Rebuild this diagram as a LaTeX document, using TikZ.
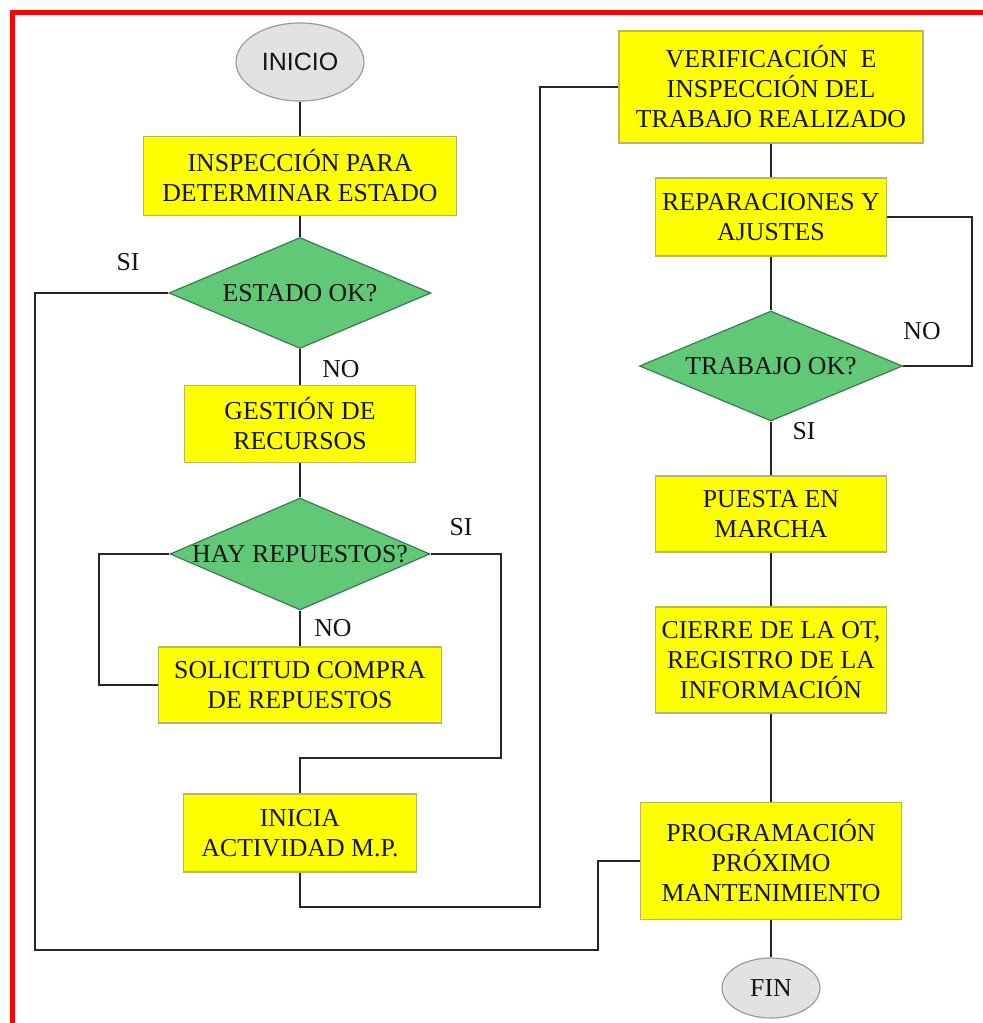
\documentclass[tikz,border=0pt]{standalone}
\usepackage{fontspec}
\setmainfont{Liberation Serif}
\setsansfont{Liberation Sans}
\usetikzlibrary{shapes.geometric}

\definecolor{stepfill}{HTML}{FFFF00}
\definecolor{stepline}{HTML}{BDB55A}
\definecolor{askfill}{HTML}{60C876}
\definecolor{askline}{HTML}{3E7A4E}
\definecolor{endfill}{HTML}{E2E2E2}
\definecolor{endline}{HTML}{9C9C9C}
\definecolor{ink}{HTML}{141414}
\definecolor{wire}{HTML}{262626}

\tikzset{
  txt/.style={font=\fontsize{12.9}{15}\selectfont, text=ink},
  stepbox/.style={txt, rectangle, draw=stepline, line width=0.6pt, fill=stepfill,
    align=center, inner sep=0pt},
  askbox/.style={txt, diamond, draw=askline, line width=0.6pt, fill=askfill,
    inner sep=0pt},
  endbox/.style={ellipse, draw=endline, line width=0.6pt, fill=endfill, inner sep=0pt},
  tag/.style={txt, inner sep=0pt},
  link/.style={draw=wire, line width=1.1pt},
}

\begin{document}
\begin{tikzpicture}[x=0.5pt, y=-0.5pt]
  \useasboundingbox (0,0) rectangle (983,1023);

  % frame
  \draw[red, line width=2.5pt] (12,1023) -- (12,12) -- (983,12);

  % left column
  \node[endbox, minimum width=64pt, minimum height=39pt,
        font=\sffamily\fontsize{12.5}{15}\selectfont, text=ink] (ini) at (300,62) {INICIO};
  \node[stepbox, minimum width=156.5pt, minimum height=39.5pt] (insp) at (300,176)
    {INSPECCIÓN PARA\\DETERMINAR ESTADO};
  \node[askbox, minimum width=131pt, minimum height=55.5pt] (est) at (300,293)
    {\makebox[0pt]{ESTADO OK?}};
  \node[stepbox, minimum width=115.5pt, minimum height=38.5pt] (ges) at (300,424)
    {GESTIÓN DE\\RECURSOS};
  \node[askbox, minimum width=130pt, minimum height=56pt] (hay) at (300,554)
    {\makebox[0pt]{HAY REPUESTOS?}};
  \node[stepbox, minimum width=141.5pt, minimum height=38pt] (sol) at (300,685)
    {SOLICITUD COMPRA\\DE REPUESTOS};
  \node[stepbox, minimum width=116.5pt, minimum height=39pt] (inia) at (300,833)
    {INICIA\\ACTIVIDAD M.P.};

  % right column
  \node[stepbox, minimum width=152pt, minimum height=56pt] (ver) at (771,87)
    {VERIFICACIÓN\ \ E\\INSPECCIÓN DEL\\TRABAJO REALIZADO};
  \node[stepbox, minimum width=115.5pt, minimum height=39pt] (rep) at (771,217)
    {REPARACIONES Y\\AJUSTES};
  \node[askbox, minimum width=131.5pt, minimum height=55pt] (tra) at (771,366)
    {\makebox[0pt]{TRABAJO OK?}};
  \node[stepbox, minimum width=115.5pt, minimum height=38pt] (pue) at (771,514)
    {PUESTA EN\\MARCHA};
  \node[stepbox, minimum width=115.5pt, minimum height=53pt] (cie) at (771,660)
    {CIERRE DE LA OT,\\REGISTRO DE LA\\INFORMACIÓN};
  \node[stepbox, minimum width=130.5pt, minimum height=58.5pt] (pro) at (771,861)
    {PROGRAMACIÓN\\PRÓXIMO\\MANTENIMIENTO};
  \node[endbox, minimum width=49pt, minimum height=30pt, txt] (fin) at (771,988) {FIN};

  % bend points
  \coordinate (e1) at (35,293);
  \coordinate (e2) at (35,950);
  \coordinate (e3) at (598,950);
  \coordinate (e4) at (598,861);
  \coordinate (h1) at (99,554);
  \coordinate (h2) at (99,685);
  \coordinate (s1) at (501,554);
  \coordinate (s2) at (501,758);
  \coordinate (s3) at (300,758);
  \coordinate (m1) at (300,907);
  \coordinate (m2) at (540,907);
  \coordinate (m3) at (540,87);
  \coordinate (r1) at (972,217);
  \coordinate (r2) at (972,366);

  % connectors
  \path[link] (ini) -- (insp);
  \path[link] (insp) -- (est);
  \path[link] (est) -- (ges);
  \path[link] (ges) -- (hay);
  \path[link] (hay) -- (sol);
  \path[link] (est.west) -- (e1) -- (e2) -- (e3) -- (e4) -- (pro.west);
  \path[link] (hay.west) -- (h1) -- (h2) -- (sol.west);
  \path[link] (hay.east) -- (s1) -- (s2) -- (s3) -- (inia.north);
  \path[link] (inia.south) -- (m1) -- (m2) -- (m3) -- (ver.west);
  \path[link] (ver) -- (rep);
  \path[link] (rep) -- (tra);
  \path[link] (rep.east) -- (r1) -- (r2) -- (tra.east);
  \path[link] (tra) -- (pue);
  \path[link] (pue) -- (cie);
  \path[link] (cie) -- (pro);
  \path[link] (pro) -- (fin);

  % branch labels
  \node[tag] (siest) at (128,262) {SI};
  \node[tag] (noest) at (341,369) {NO};
  \node[tag] (sihay) at (461,527) {SI};
  \node[tag] (nohay) at (333,628) {NO};
  \node[tag] (notra) at (922,331) {NO};
  \node[tag] (sitra) at (804,431) {SI};
\end{tikzpicture}
\end{document}
